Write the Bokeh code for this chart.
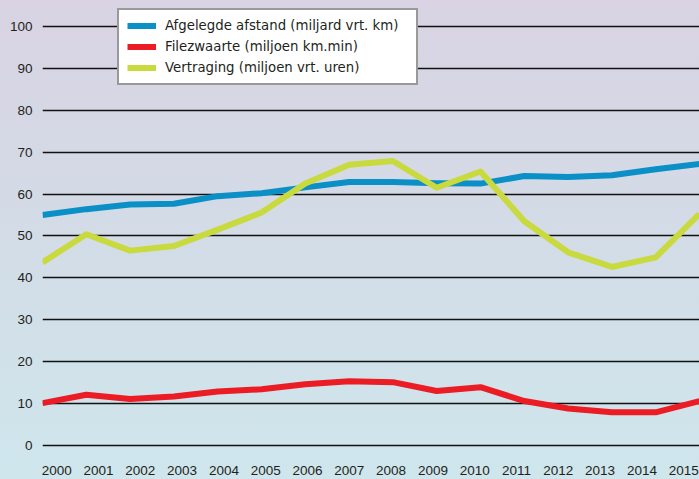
from bokeh.plotting import figure
from bokeh.models import Range1d, FixedTicker, Legend, LegendItem, ColumnDataSource
from bokeh.embed import file_html
from bokeh.resources import INLINE

years = list(range(2000, 2016))
afstand = [55.0, 56.4, 57.5, 57.7, 59.5, 60.2, 61.6, 62.9, 62.9, 62.6, 62.5, 64.3, 64.1, 64.5, 65.9, 67.2]
filezwaarte = [10.1, 12.1, 11.1, 11.7, 12.9, 13.4, 14.6, 15.3, 15.1, 13.0, 13.9, 10.6, 8.8, 7.9, 7.9, 10.6]
vertraging = [43.7, 50.4, 46.5, 47.6, 51.5, 55.6, 62.5, 67.0, 67.9, 61.5, 65.4, 53.5, 46.1, 42.6, 44.9, 55.3]
y_ticks = [0, 10, 20, 30, 40, 50, 60, 70, 80, 90, 100]
x_labels = [str(y) for y in years]
series_names = ["Afgelegde afstand (miljard vrt. km)",
                "Filezwaarte (miljoen km.min)",
                "Vertraging (miljoen vrt. uren)"]

FONT = "Liberation Sans"
LFONT = "DejaVu Sans"
TXT = "#231f20"

p = figure(width=699, height=479, output_backend="svg", toolbar_location=None,
           x_range=Range1d(2000, 2015), y_range=Range1d(-2.4, 106.2),
           min_border_left=42, min_border_right=0, min_border_top=0, min_border_bottom=24)

p.background_fill_color = None
p.border_fill_color = None
p.outline_line_color = None
p.styles = {"background": "linear-gradient(to bottom, #d9d3e3 0%, #d3dbe6 45%, #cfe6ed 100%)"}

# x tick labels sit slightly offset from the data positions in the reference
label_pos = [2000 + (14.2 + 41.8 * i) / 43.8 for i in range(len(years))]
p.xaxis.ticker = FixedTicker(ticks=label_pos)
p.xaxis.major_label_overrides = {pos: lab for pos, lab in zip(label_pos, x_labels)}
p.yaxis.ticker = FixedTicker(ticks=y_ticks)

for ax in (p.xaxis[0], p.yaxis[0]):
    ax.axis_line_color = None
    ax.major_tick_line_color = None
    ax.minor_tick_line_color = None
    ax.major_tick_out = 0
    ax.major_tick_in = 0
    ax.minor_tick_out = 0
    ax.minor_tick_in = 0
    ax.major_label_text_font = FONT
    ax.major_label_text_font_size = "13.5px"
    ax.major_label_text_color = TXT
p.xaxis.major_label_standoff = 10
p.yaxis.major_label_standoff = 10

p.xgrid.grid_line_color = None
p.ygrid.ticker = FixedTicker(ticks=y_ticks)
p.ygrid.grid_line_color = "#111111"
p.ygrid.grid_line_width = 1.3

src = ColumnDataSource(dict(x=years, a=afstand, f=filezwaarte, v=vertraging))
r1 = p.line("x", "a", source=src, line_color="#0a8fc6", line_width=6, line_join="round")
r2 = p.line("x", "f", source=src, line_color="#ec1c24", line_width=6, line_join="round")
r3 = p.line("x", "v", source=src, line_color="#c9da3e", line_width=6, line_join="round")

legend = Legend(items=[LegendItem(label=series_names[0], renderers=[r1]),
                       LegendItem(label=series_names[1], renderers=[r2]),
                       LegendItem(label=series_names[2], renderers=[r3])],
                location=(75, 370))
legend.border_line_color = "#333333"
legend.border_line_width = 2
legend.background_fill_color = "white"
legend.background_fill_alpha = 1
legend.label_text_font = LFONT
legend.label_text_font_size = "13.3px"
legend.label_text_color = TXT
legend.glyph_width = 29
legend.glyph_height = 15
legend.label_height = 15
legend.label_width = 243
legend.label_standoff = 9
legend.spacing = 6
legend.padding = 8
legend.margin = 0
p.add_layout(legend)

open("out.html", "w").write(file_html(p, INLINE))
